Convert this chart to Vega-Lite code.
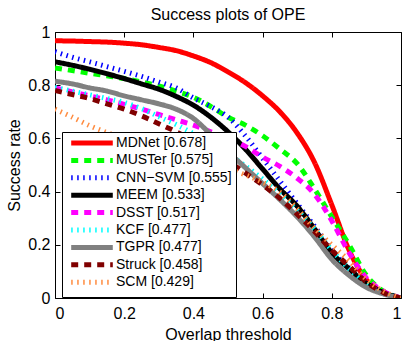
{
"$schema": "https://vega.github.io/schema/vega-lite/v6.json",
"width": 346, "height": 266,
"autosize": {"type": "none"},
"padding": {"left": 55, "top": 32, "right": 10, "bottom": 43},
"title": {"text": "Success plots of OPE", "fontSize": 16, "fontWeight": "normal", "font": "Liberation Sans", "offset": 1, "color": "black"},
"config": {"view": {"stroke": "black", "strokeWidth": 1}, "font": "Liberation Sans",
  "axis": {"grid": false, "domain": false, "tickColor": "black", "tickSize": -5, "labelColor": "black", "labelFontSize": 16, "labelFont": "Liberation Sans", "titleFont": "Liberation Sans", "titleFontSize": 16, "titleFontWeight": "normal", "titleColor": "black"}},
"datasets": {"curves": [
{"tracker":"MDNet [0.678]","t":0,"s":0.967},{"tracker":"MDNet [0.678]","t":0.05,"s":0.966},{"tracker":"MDNet [0.678]","t":0.1,"s":0.964},{"tracker":"MDNet [0.678]","t":0.15,"s":0.962},{"tracker":"MDNet [0.678]","t":0.2,"s":0.958},{"tracker":"MDNet [0.678]","t":0.25,"s":0.952},{"tracker":"MDNet [0.678]","t":0.3,"s":0.942},{"tracker":"MDNet [0.678]","t":0.35,"s":0.93},{"tracker":"MDNet [0.678]","t":0.4,"s":0.91},{"tracker":"MDNet [0.678]","t":0.45,"s":0.885},{"tracker":"MDNet [0.678]","t":0.5,"s":0.85},{"tracker":"MDNet [0.678]","t":0.55,"s":0.81},{"tracker":"MDNet [0.678]","t":0.6,"s":0.76},{"tracker":"MDNet [0.678]","t":0.65,"s":0.70},{"tracker":"MDNet [0.678]","t":0.7,"s":0.62},{"tracker":"MDNet [0.678]","t":0.75,"s":0.51},{"tracker":"MDNet [0.678]","t":0.8,"s":0.35},{"tracker":"MDNet [0.678]","t":0.85,"s":0.18},{"tracker":"MDNet [0.678]","t":0.9,"s":0.068},{"tracker":"MDNet [0.678]","t":0.95,"s":0.022},{"tracker":"MDNet [0.678]","t":1,"s":0},
{"tracker":"MUSTer [0.575]","t":0,"s":0.865},{"tracker":"MUSTer [0.575]","t":0.05,"s":0.855},{"tracker":"MUSTer [0.575]","t":0.1,"s":0.845},{"tracker":"MUSTer [0.575]","t":0.15,"s":0.835},{"tracker":"MUSTer [0.575]","t":0.2,"s":0.825},{"tracker":"MUSTer [0.575]","t":0.25,"s":0.812},{"tracker":"MUSTer [0.575]","t":0.3,"s":0.797},{"tracker":"MUSTer [0.575]","t":0.35,"s":0.778},{"tracker":"MUSTer [0.575]","t":0.4,"s":0.755},{"tracker":"MUSTer [0.575]","t":0.45,"s":0.72},{"tracker":"MUSTer [0.575]","t":0.5,"s":0.68},{"tracker":"MUSTer [0.575]","t":0.55,"s":0.65},{"tracker":"MUSTer [0.575]","t":0.6,"s":0.61},{"tracker":"MUSTer [0.575]","t":0.65,"s":0.56},{"tracker":"MUSTer [0.575]","t":0.7,"s":0.505},{"tracker":"MUSTer [0.575]","t":0.75,"s":0.41},{"tracker":"MUSTer [0.575]","t":0.8,"s":0.305},{"tracker":"MUSTer [0.575]","t":0.85,"s":0.20},{"tracker":"MUSTer [0.575]","t":0.9,"s":0.085},{"tracker":"MUSTer [0.575]","t":0.95,"s":0.025},{"tracker":"MUSTer [0.575]","t":1,"s":0},
{"tracker":"CNN−SVM [0.555]","t":0,"s":0.926},{"tracker":"CNN−SVM [0.555]","t":0.05,"s":0.905},{"tracker":"CNN−SVM [0.555]","t":0.1,"s":0.888},{"tracker":"CNN−SVM [0.555]","t":0.15,"s":0.87},{"tracker":"CNN−SVM [0.555]","t":0.2,"s":0.852},{"tracker":"CNN−SVM [0.555]","t":0.25,"s":0.833},{"tracker":"CNN−SVM [0.555]","t":0.3,"s":0.812},{"tracker":"CNN−SVM [0.555]","t":0.35,"s":0.79},{"tracker":"CNN−SVM [0.555]","t":0.4,"s":0.752},{"tracker":"CNN−SVM [0.555]","t":0.45,"s":0.72},{"tracker":"CNN−SVM [0.555]","t":0.5,"s":0.68},{"tracker":"CNN−SVM [0.555]","t":0.55,"s":0.61},{"tracker":"CNN−SVM [0.555]","t":0.6,"s":0.525},{"tracker":"CNN−SVM [0.555]","t":0.65,"s":0.44},{"tracker":"CNN−SVM [0.555]","t":0.7,"s":0.355},{"tracker":"CNN−SVM [0.555]","t":0.75,"s":0.27},{"tracker":"CNN−SVM [0.555]","t":0.8,"s":0.18},{"tracker":"CNN−SVM [0.555]","t":0.85,"s":0.11},{"tracker":"CNN−SVM [0.555]","t":0.9,"s":0.055},{"tracker":"CNN−SVM [0.555]","t":0.95,"s":0.02},{"tracker":"CNN−SVM [0.555]","t":1,"s":0},
{"tracker":"MEEM [0.533]","t":0,"s":0.888},{"tracker":"MEEM [0.533]","t":0.05,"s":0.875},{"tracker":"MEEM [0.533]","t":0.1,"s":0.86},{"tracker":"MEEM [0.533]","t":0.15,"s":0.843},{"tracker":"MEEM [0.533]","t":0.2,"s":0.825},{"tracker":"MEEM [0.533]","t":0.25,"s":0.805},{"tracker":"MEEM [0.533]","t":0.3,"s":0.785},{"tracker":"MEEM [0.533]","t":0.35,"s":0.758},{"tracker":"MEEM [0.533]","t":0.4,"s":0.725},{"tracker":"MEEM [0.533]","t":0.45,"s":0.68},{"tracker":"MEEM [0.533]","t":0.5,"s":0.625},{"tracker":"MEEM [0.533]","t":0.55,"s":0.56},{"tracker":"MEEM [0.533]","t":0.6,"s":0.485},{"tracker":"MEEM [0.533]","t":0.65,"s":0.41},{"tracker":"MEEM [0.533]","t":0.7,"s":0.345},{"tracker":"MEEM [0.533]","t":0.75,"s":0.26},{"tracker":"MEEM [0.533]","t":0.8,"s":0.17},{"tracker":"MEEM [0.533]","t":0.85,"s":0.11},{"tracker":"MEEM [0.533]","t":0.9,"s":0.055},{"tracker":"MEEM [0.533]","t":0.95,"s":0.02},{"tracker":"MEEM [0.533]","t":1,"s":0},
{"tracker":"DSST [0.517]","t":0,"s":0.79},{"tracker":"DSST [0.517]","t":0.05,"s":0.775},{"tracker":"DSST [0.517]","t":0.1,"s":0.76},{"tracker":"DSST [0.517]","t":0.15,"s":0.745},{"tracker":"DSST [0.517]","t":0.2,"s":0.728},{"tracker":"DSST [0.517]","t":0.25,"s":0.71},{"tracker":"DSST [0.517]","t":0.3,"s":0.69},{"tracker":"DSST [0.517]","t":0.35,"s":0.67},{"tracker":"DSST [0.517]","t":0.4,"s":0.65},{"tracker":"DSST [0.517]","t":0.45,"s":0.625},{"tracker":"DSST [0.517]","t":0.5,"s":0.6},{"tracker":"DSST [0.517]","t":0.55,"s":0.57},{"tracker":"DSST [0.517]","t":0.6,"s":0.53},{"tracker":"DSST [0.517]","t":0.65,"s":0.495},{"tracker":"DSST [0.517]","t":0.7,"s":0.45},{"tracker":"DSST [0.517]","t":0.75,"s":0.39},{"tracker":"DSST [0.517]","t":0.8,"s":0.29},{"tracker":"DSST [0.517]","t":0.85,"s":0.17},{"tracker":"DSST [0.517]","t":0.9,"s":0.075},{"tracker":"DSST [0.517]","t":0.95,"s":0.025},{"tracker":"DSST [0.517]","t":1,"s":0},
{"tracker":"KCF [0.477]","t":0,"s":0.792},{"tracker":"KCF [0.477]","t":0.05,"s":0.778},{"tracker":"KCF [0.477]","t":0.1,"s":0.764},{"tracker":"KCF [0.477]","t":0.15,"s":0.75},{"tracker":"KCF [0.477]","t":0.2,"s":0.735},{"tracker":"KCF [0.477]","t":0.25,"s":0.712},{"tracker":"KCF [0.477]","t":0.3,"s":0.682},{"tracker":"KCF [0.477]","t":0.35,"s":0.652},{"tracker":"KCF [0.477]","t":0.4,"s":0.618},{"tracker":"KCF [0.477]","t":0.45,"s":0.582},{"tracker":"KCF [0.477]","t":0.5,"s":0.542},{"tracker":"KCF [0.477]","t":0.55,"s":0.497},{"tracker":"KCF [0.477]","t":0.6,"s":0.447},{"tracker":"KCF [0.477]","t":0.65,"s":0.39},{"tracker":"KCF [0.477]","t":0.7,"s":0.33},{"tracker":"KCF [0.477]","t":0.75,"s":0.26},{"tracker":"KCF [0.477]","t":0.8,"s":0.18},{"tracker":"KCF [0.477]","t":0.85,"s":0.11},{"tracker":"KCF [0.477]","t":0.9,"s":0.052},{"tracker":"KCF [0.477]","t":0.95,"s":0.02},{"tracker":"KCF [0.477]","t":1,"s":0},
{"tracker":"TGPR [0.477]","t":0,"s":0.815},{"tracker":"TGPR [0.477]","t":0.05,"s":0.805},{"tracker":"TGPR [0.477]","t":0.1,"s":0.79},{"tracker":"TGPR [0.477]","t":0.15,"s":0.778},{"tracker":"TGPR [0.477]","t":0.2,"s":0.76},{"tracker":"TGPR [0.477]","t":0.25,"s":0.745},{"tracker":"TGPR [0.477]","t":0.3,"s":0.73},{"tracker":"TGPR [0.477]","t":0.35,"s":0.71},{"tracker":"TGPR [0.477]","t":0.4,"s":0.675},{"tracker":"TGPR [0.477]","t":0.45,"s":0.615},{"tracker":"TGPR [0.477]","t":0.5,"s":0.55},{"tracker":"TGPR [0.477]","t":0.55,"s":0.49},{"tracker":"TGPR [0.477]","t":0.6,"s":0.43},{"tracker":"TGPR [0.477]","t":0.65,"s":0.37},{"tracker":"TGPR [0.477]","t":0.7,"s":0.305},{"tracker":"TGPR [0.477]","t":0.75,"s":0.23},{"tracker":"TGPR [0.477]","t":0.8,"s":0.145},{"tracker":"TGPR [0.477]","t":0.85,"s":0.085},{"tracker":"TGPR [0.477]","t":0.9,"s":0.04},{"tracker":"TGPR [0.477]","t":0.95,"s":0.015},{"tracker":"TGPR [0.477]","t":1,"s":0},
{"tracker":"Struck [0.458]","t":0,"s":0.78},{"tracker":"Struck [0.458]","t":0.05,"s":0.765},{"tracker":"Struck [0.458]","t":0.1,"s":0.75},{"tracker":"Struck [0.458]","t":0.15,"s":0.73},{"tracker":"Struck [0.458]","t":0.2,"s":0.71},{"tracker":"Struck [0.458]","t":0.25,"s":0.685},{"tracker":"Struck [0.458]","t":0.3,"s":0.655},{"tracker":"Struck [0.458]","t":0.35,"s":0.625},{"tracker":"Struck [0.458]","t":0.4,"s":0.59},{"tracker":"Struck [0.458]","t":0.45,"s":0.555},{"tracker":"Struck [0.458]","t":0.5,"s":0.515},{"tracker":"Struck [0.458]","t":0.55,"s":0.47},{"tracker":"Struck [0.458]","t":0.6,"s":0.425},{"tracker":"Struck [0.458]","t":0.65,"s":0.375},{"tracker":"Struck [0.458]","t":0.7,"s":0.315},{"tracker":"Struck [0.458]","t":0.75,"s":0.25},{"tracker":"Struck [0.458]","t":0.8,"s":0.18},{"tracker":"Struck [0.458]","t":0.85,"s":0.12},{"tracker":"Struck [0.458]","t":0.9,"s":0.06},{"tracker":"Struck [0.458]","t":0.95,"s":0.02},{"tracker":"Struck [0.458]","t":1,"s":0},
{"tracker":"SCM [0.429]","t":0,"s":0.71},{"tracker":"SCM [0.429]","t":0.05,"s":0.68},{"tracker":"SCM [0.429]","t":0.1,"s":0.648},{"tracker":"SCM [0.429]","t":0.15,"s":0.622},{"tracker":"SCM [0.429]","t":0.2,"s":0.6},{"tracker":"SCM [0.429]","t":0.25,"s":0.58},{"tracker":"SCM [0.429]","t":0.3,"s":0.56},{"tracker":"SCM [0.429]","t":0.35,"s":0.54},{"tracker":"SCM [0.429]","t":0.4,"s":0.52},{"tracker":"SCM [0.429]","t":0.45,"s":0.5},{"tracker":"SCM [0.429]","t":0.5,"s":0.485},{"tracker":"SCM [0.429]","t":0.55,"s":0.463},{"tracker":"SCM [0.429]","t":0.6,"s":0.435},{"tracker":"SCM [0.429]","t":0.65,"s":0.398},{"tracker":"SCM [0.429]","t":0.7,"s":0.335},{"tracker":"SCM [0.429]","t":0.75,"s":0.262},{"tracker":"SCM [0.429]","t":0.8,"s":0.2},{"tracker":"SCM [0.429]","t":0.85,"s":0.14},{"tracker":"SCM [0.429]","t":0.9,"s":0.07},{"tracker":"SCM [0.429]","t":0.95,"s":0.025},{"tracker":"SCM [0.429]","t":1,"s":0}
]},
"data": {"name": "curves"},
"layer": [
 {"mark": {"type": "line", "strokeWidth": 5, "interpolate": "monotone", "clip": true},
  "encoding": {
   "x": {"field": "t", "type": "quantitative", "scale": {"domain": [0, 1], "nice": false},
         "axis": {"values": [0, 0.2, 0.4, 0.6, 0.8, 1], "format": "~g", "title": "Overlap threshold", "labelPadding": 12, "titlePadding": 5}},
   "y": {"field": "s", "type": "quantitative", "scale": {"domain": [0, 1], "nice": false},
         "axis": {"values": [0, 0.2, 0.4, 0.6, 0.8, 1], "format": "~g", "title": "Success rate", "labelPadding": 10, "titlePadding": 5}},
   "color": {"field": "tracker", "type": "nominal", "sort": null,
     "scale": {"domain": ["MDNet [0.678]", "MUSTer [0.575]", "CNN−SVM [0.555]", "MEEM [0.533]", "DSST [0.517]", "KCF [0.477]", "TGPR [0.477]", "Struck [0.458]", "SCM [0.429]"],
               "range": ["#ff0000", "#00ff00", "#0000ff", "#000000", "#ff00ff", "#00ffff", "#808080", "#800000", "#ff8c40"]},
     "legend": {"orient": "none", "legendX": 7, "legendY": 100, "title": null, "symbolType": "M-5.2,0H5.2", "symbolSize": 64, "symbolStrokeWidth": 5, "symbolOffset": 19,
                "labelFontSize": 14, "labelFont": "Liberation Sans", "labelColor": "black", "labelLimit": 300, "labelOffset": 17,
                "strokeColor": "black", "fillColor": "white", "padding": 4, "rowPadding": -2.6}},
   "strokeDash": {"field": "tracker", "type": "nominal", "sort": null,
     "scale": {"domain": ["MDNet [0.678]", "MUSTer [0.575]", "CNN−SVM [0.555]", "MEEM [0.533]", "DSST [0.517]", "KCF [0.477]", "TGPR [0.477]", "Struck [0.458]", "SCM [0.429]"],
               "range": [[1, 0], [7, 6], [1.5, 4.5], [1, 0], [7, 6], [1.5, 4.5], [1, 0], [7, 6], [1.5, 4.5]]}}
  }},
 {"mark": {"type": "line", "opacity": 0},
  "encoding": {
   "x": {"field": "t", "type": "quantitative", "axis": {"orient": "top", "values": [0, 0.2, 0.4, 0.6, 0.8, 1], "labels": false, "title": null}},
   "y": {"field": "s", "type": "quantitative", "axis": {"orient": "right", "values": [0, 0.2, 0.4, 0.6, 0.8, 1], "labels": false, "title": null}}
  }}
],
"resolve": {"axis": {"x": "independent", "y": "independent"}}
}
